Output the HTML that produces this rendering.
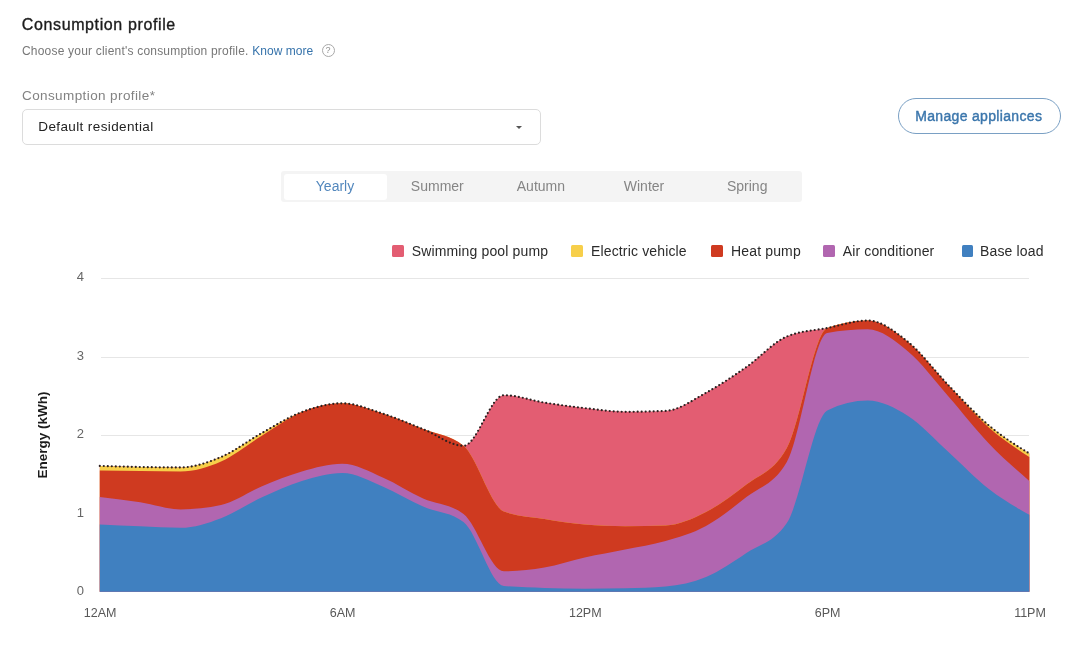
<!DOCTYPE html>
<html><head><meta charset="utf-8">
<style>
html,body{margin:0;padding:0;background:#fff;}
body{width:1080px;height:651px;overflow:hidden;position:relative;will-change:transform;font-family:"Liberation Sans",sans-serif;}
.t{position:absolute;white-space:nowrap;line-height:1;}
.title{left:21.8px;top:17.4px;font-size:16px;font-weight:400;letter-spacing:0.62px;-webkit-text-stroke:0.35px #1c1c1c;color:#1c1c1c;}
.sub{left:22px;top:44.8px;font-size:12px;letter-spacing:0.2px;color:#777;}
.sub .km{color:#3673ab;letter-spacing:0.05px;}
.help{position:absolute;left:321.5px;top:44px;width:11px;height:11px;border:1.1px solid #a9a9a9;border-radius:50%;}
.help span{position:absolute;left:0;top:1px;width:11px;text-align:center;font-size:9px;line-height:9px;color:#8f8f8f;}
.label{left:22px;top:88.8px;font-size:13.5px;letter-spacing:0.4px;color:#828282;}
.select{position:absolute;left:22px;top:109.1px;width:517px;height:34.2px;border:1px solid #dcdcdc;border-radius:5px;box-sizing:content-box;}
.selv{left:38.3px;top:119.8px;font-size:13.5px;letter-spacing:0.38px;color:#222;}
.caret{position:absolute;left:516px;top:125.5px;width:0;height:0;border-left:3px solid transparent;border-right:3px solid transparent;border-top:3.5px solid #555;}
.btn{position:absolute;left:897.5px;top:98px;width:161px;height:34px;border:1.2px solid #7aa0c4;border-radius:18px;}
.btnt{left:915.2px;top:108.8px;font-size:14px;font-weight:400;letter-spacing:0.33px;-webkit-text-stroke:0.4px #3b76ac;color:#3b76ac;}
.tabs{position:absolute;left:281px;top:170.7px;width:521px;height:31.7px;background:#f4f4f4;border-radius:3px;}
.tabact{position:absolute;left:283.5px;top:174px;width:103px;height:26px;background:#fff;border-radius:3px;}
.tab{top:178.6px;font-size:14px;width:103px;text-align:center;color:#858585;}
.leg{position:absolute;top:244.7px;width:11.5px;height:12px;border-radius:1.5px;}
.legt{top:243.85px;font-size:14px;letter-spacing:0.15px;color:#2b2b2b;}
.yl{font-size:13px;color:#666;width:30px;text-align:right;left:54px;}
.xl{top:607.4px;font-size:12.5px;color:#585858;width:60px;text-align:center;}
.ytitle{position:absolute;left:43.2px;top:435.2px;font-size:13.5px;font-weight:700;color:#1c1c1c;line-height:1;white-space:nowrap;transform:translate(-50%,-50%) rotate(-90deg);}
svg{position:absolute;left:0;top:0;}
</style></head><body>
<div class="t title">Consumption profile</div>
<div class="t sub">Choose your client's consumption profile. <span class="km">Know more</span></div>
<div class="help"><span>?</span></div>
<div class="t label">Consumption profile*</div>
<div class="select"></div>
<div class="t selv">Default residential</div>
<div class="caret"></div>
<div class="btn"></div>
<div class="t btnt">Manage appliances</div>
<div class="tabs"></div>
<div class="tabact"></div>
<div class="t tab" style="left:283.5px;color:#5287bd;">Yearly</div>
<div class="t tab" style="left:385.8px;">Summer</div>
<div class="t tab" style="left:489.4px;">Autumn</div>
<div class="t tab" style="left:592.5px;">Winter</div>
<div class="t tab" style="left:695.7px;">Spring</div>
<div class="leg" style="left:392.1px;background:#e35d72;"></div>
<div class="t legt" style="left:411.7px;">Swimming pool pump</div>
<div class="leg" style="left:571.1px;background:#f7cf4a;"></div>
<div class="t legt" style="left:591px;">Electric vehicle</div>
<div class="leg" style="left:711px;background:#cf3a20;"></div>
<div class="t legt" style="left:731px;">Heat pump</div>
<div class="leg" style="left:823.3px;background:#b166b0;"></div>
<div class="t legt" style="left:842.7px;">Air conditioner</div>
<div class="leg" style="left:961.7px;background:#4080c0;"></div>
<div class="t legt" style="left:980px;">Base load</div>
<div class="t yl" style="top:270.0px;">4</div>
<div class="t yl" style="top:348.7px;">3</div>
<div class="t yl" style="top:427.3px;">2</div>
<div class="t yl" style="top:505.8px;">1</div>
<div class="t yl" style="top:584.0px;">0</div>
<div class="t xl" style="left:70.1px;">12AM</div>
<div class="t xl" style="left:312.6px;">6AM</div>
<div class="t xl" style="left:555.3px;">12PM</div>
<div class="t xl" style="left:797.7px;">6PM</div>
<div class="t xl" style="left:1000px;">11PM</div>
<div class="ytitle">Energy (kWh)</div>
<svg width="1080" height="651" viewBox="0 0 1080 651">
<g stroke="#e6e6e6" stroke-width="1">
<line x1="101" y1="278.5" x2="1029" y2="278.5"/>
<line x1="101" y1="357.5" x2="1029" y2="357.5"/>
<line x1="101" y1="435.5" x2="1029" y2="435.5"/>
<line x1="101" y1="514" x2="1029" y2="514"/>
</g>
<path d="M99.80,465.90C113.27,466.32 126.74,466.75 140.21,467.00C153.68,467.25 167.16,467.40 180.63,467.40C194.10,467.40 207.57,462.68 221.04,457.00C234.51,451.32 247.98,440.80 261.45,433.30C274.92,425.80 288.39,417.00 301.87,412.00C315.34,407.00 328.81,403.30 342.28,403.30C355.75,403.30 369.22,409.30 382.69,413.60C396.16,417.90 409.63,423.73 423.10,429.10C436.58,434.47 450.05,445.80 463.52,445.80C476.99,445.80 490.46,395.20 503.93,395.20C517.40,395.20 530.87,400.45 544.34,402.60C557.81,404.75 571.29,406.57 584.76,408.10C598.23,409.63 611.70,411.80 625.17,411.80C638.64,411.80 652.11,411.50 665.58,410.90C679.05,410.30 692.52,400.12 706.00,392.80C719.47,385.48 732.94,376.38 746.41,367.00C759.88,357.62 773.35,342.17 786.82,336.50C800.29,330.83 813.76,330.67 827.23,328.00C840.71,325.33 854.18,320.50 867.65,320.50C881.12,320.50 894.59,331.20 908.06,342.00C921.53,352.80 935.00,371.38 948.47,385.30C961.94,399.22 975.42,414.13 988.89,425.50C1002.36,436.87 1015.83,445.18 1029.30,453.50L1029.30,591.8L99.80,591.8Z" fill="#e35d72"/>
<path d="M99.80,465.90C113.27,466.32 126.74,466.75 140.21,467.00C153.68,467.25 167.16,467.40 180.63,467.40C194.10,467.40 207.57,462.68 221.04,457.00C234.51,451.32 247.98,440.80 261.45,433.30C274.92,425.80 288.39,417.00 301.87,412.00C315.34,407.00 328.81,403.30 342.28,403.30C355.75,403.30 369.22,409.30 382.69,413.60C396.16,417.90 409.63,423.73 423.10,429.10C436.58,434.47 450.05,434.67 463.52,445.80C476.99,456.93 490.46,506.50 503.93,511.50C517.40,516.50 530.87,516.82 544.34,519.00C557.81,521.18 571.29,523.47 584.76,524.60C598.23,525.73 611.70,526.30 625.17,526.30C638.64,526.30 652.11,526.03 665.58,525.50C679.05,524.97 692.52,518.83 706.00,512.00C719.47,505.17 732.94,495.17 746.41,484.50C759.88,473.83 773.35,472.33 786.82,448.00C800.29,423.67 813.76,333.00 827.23,328.00C840.71,323.00 854.18,320.50 867.65,320.50C881.12,320.50 894.59,331.20 908.06,342.00C921.53,352.80 935.00,371.38 948.47,385.30C961.94,399.22 975.42,414.13 988.89,425.50C1002.36,436.87 1015.83,445.18 1029.30,453.50L1029.30,591.8L99.80,591.8Z" fill="#f7cf4a"/>
<path d="M99.80,470.40C113.27,470.61 126.74,470.82 140.21,471.00C153.68,471.18 167.16,471.50 180.63,471.50C194.10,471.50 207.57,467.42 221.04,461.50C234.51,455.58 247.98,444.25 261.45,436.00C274.92,427.75 288.39,417.45 301.87,412.00C315.34,406.55 328.81,403.30 342.28,403.30C355.75,403.30 369.22,409.30 382.69,413.60C396.16,417.90 409.63,423.73 423.10,429.10C436.58,434.47 450.05,434.67 463.52,445.80C476.99,456.93 490.46,506.50 503.93,511.50C517.40,516.50 530.87,516.82 544.34,519.00C557.81,521.18 571.29,523.47 584.76,524.60C598.23,525.73 611.70,526.30 625.17,526.30C638.64,526.30 652.11,526.03 665.58,525.50C679.05,524.97 692.52,518.83 706.00,512.00C719.47,505.17 732.94,495.17 746.41,484.50C759.88,473.83 773.35,472.33 786.82,448.00C800.29,423.67 813.76,333.00 827.23,328.00C840.71,323.00 854.18,320.50 867.65,320.50C881.12,320.50 894.59,331.20 908.06,342.00C921.53,352.80 935.00,371.05 948.47,385.30C961.94,399.55 975.42,415.55 988.89,427.50C1002.36,439.45 1015.83,448.23 1029.30,457.00L1029.30,591.8L99.80,591.8Z" fill="#cf3a20"/>
<path d="M99.80,496.90C113.27,498.56 126.74,500.22 140.21,502.30C153.68,504.38 167.16,509.40 180.63,509.40C194.10,509.40 207.57,507.93 221.04,505.00C234.51,502.07 247.98,492.08 261.45,486.50C274.92,480.92 288.39,475.28 301.87,471.50C315.34,467.72 328.81,463.80 342.28,463.80C355.75,463.80 369.22,471.72 382.69,477.50C396.16,483.28 409.63,492.42 423.10,498.50C436.58,504.58 450.05,503.67 463.52,514.00C476.99,524.33 490.46,571.30 503.93,571.30C517.40,571.30 530.87,569.80 544.34,567.50C557.81,565.20 571.29,560.50 584.76,557.50C598.23,554.50 611.70,552.25 625.17,549.50C638.64,546.75 652.11,544.92 665.58,541.00C679.05,537.08 692.52,533.33 706.00,526.00C719.47,518.67 732.94,507.67 746.41,497.00C759.88,486.33 773.35,485.33 786.82,462.00C800.29,438.67 813.76,335.47 827.23,333.00C840.71,330.53 854.18,329.30 867.65,329.30C881.12,329.30 894.59,340.30 908.06,351.50C921.53,362.70 935.00,381.17 948.47,396.50C961.94,411.83 975.42,429.42 988.89,443.50C1002.36,457.58 1015.83,469.29 1029.30,481.00L1029.30,591.8L99.80,591.8Z" fill="#b166b0"/>
<path d="M99.80,524.50C113.27,525.12 126.74,525.75 140.21,526.30C153.68,526.85 167.16,527.80 180.63,527.80C194.10,527.80 207.57,523.25 221.04,518.20C234.51,513.15 247.98,503.70 261.45,497.50C274.92,491.30 288.39,485.08 301.87,481.00C315.34,476.92 328.81,473.00 342.28,473.00C355.75,473.00 369.22,480.90 382.69,486.50C396.16,492.10 409.63,500.68 423.10,506.60C436.58,512.52 450.05,511.73 463.52,522.00C476.99,532.27 490.46,584.67 503.93,586.00C517.40,587.33 530.87,587.53 544.34,588.00C557.81,588.47 571.29,588.80 584.76,588.80C598.23,588.80 611.70,588.63 625.17,588.30C638.64,587.97 652.11,587.70 665.58,586.50C679.05,585.30 692.52,582.58 706.00,577.00C719.47,571.42 732.94,562.00 746.41,553.00C759.88,544.00 773.35,543.00 786.82,523.00C800.29,503.00 813.76,417.17 827.23,410.50C840.71,403.83 854.18,400.50 867.65,400.50C881.12,400.50 894.59,407.42 908.06,416.00C921.53,424.58 935.00,439.83 948.47,452.00C961.94,464.17 975.42,478.53 988.89,489.00C1002.36,499.47 1015.83,507.13 1029.30,514.80L1029.30,591.8L99.80,591.8Z" fill="#4080c0"/>
<path d="M99.80,465.90C113.27,466.32 126.74,466.75 140.21,467.00C153.68,467.25 167.16,467.40 180.63,467.40C194.10,467.40 207.57,462.68 221.04,457.00C234.51,451.32 247.98,440.80 261.45,433.30C274.92,425.80 288.39,417.00 301.87,412.00C315.34,407.00 328.81,403.30 342.28,403.30C355.75,403.30 369.22,409.30 382.69,413.60C396.16,417.90 409.63,423.73 423.10,429.10C436.58,434.47 450.05,445.80 463.52,445.80C476.99,445.80 490.46,395.20 503.93,395.20C517.40,395.20 530.87,400.45 544.34,402.60C557.81,404.75 571.29,406.57 584.76,408.10C598.23,409.63 611.70,411.80 625.17,411.80C638.64,411.80 652.11,411.50 665.58,410.90C679.05,410.30 692.52,400.12 706.00,392.80C719.47,385.48 732.94,376.38 746.41,367.00C759.88,357.62 773.35,342.17 786.82,336.50C800.29,330.83 813.76,330.67 827.23,328.00C840.71,325.33 854.18,320.50 867.65,320.50C881.12,320.50 894.59,331.20 908.06,342.00C921.53,352.80 935.00,371.38 948.47,385.30C961.94,399.22 975.42,414.13 988.89,425.50C1002.36,436.87 1015.83,445.18 1029.30,453.50" fill="none" stroke="#2b2020" stroke-width="2.2" stroke-dasharray="0 4" stroke-linecap="round"/>
</svg>
</body></html>
